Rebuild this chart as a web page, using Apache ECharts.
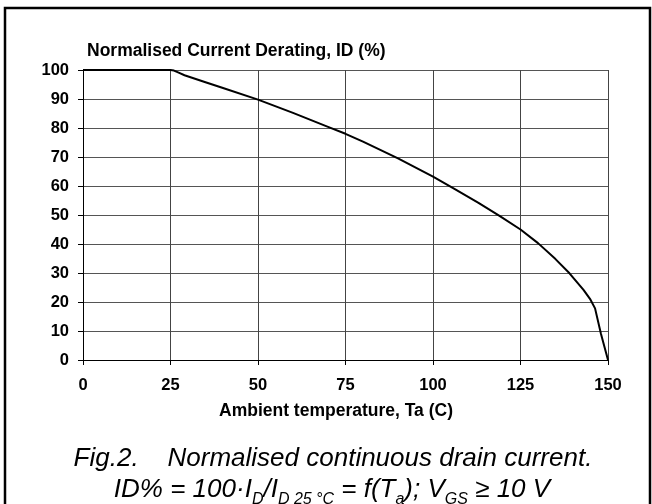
<!DOCTYPE html>
<html>
<head>
<meta charset="utf-8">
<script src="https://cdn.jsdelivr.net/npm/echarts@6/dist/echarts.min.js"></script>
<style>
html,body{margin:0;padding:0;background:#fff;}
#c{width:652px;height:504px;}
</style>
</head>
<body>
<div id="c"></div>
<script>
var temperature = [0, 25, 26, 27.5, 29, 35, 40, 50, 60, 70, 75, 80, 90, 100, 106, 113, 119, 125, 130, 135, 139, 143, 145, 146.3, 148, 150];
var currentPct  = [100, 100, 99.8, 99, 98.2, 95.8, 93.8, 89.8, 85.2, 80.4, 78, 75.3, 69.5, 63.2, 59.1, 54.2, 49.7, 45, 40.3, 34.8, 29.9, 24.2, 20.8, 17.8, 9, 0];
var xTicks = [0, 25, 50, 75, 100, 125, 150];
var yTicks = [0, 10, 20, 30, 40, 50, 60, 70, 80, 90, 100];

var FONT = 'Arial, "Liberation Sans", sans-serif';
var chart = echarts.init(document.getElementById('c'), null, {renderer: 'canvas'});
var pts = temperature.map(function (t, i) { return [t, currentPct[i]]; });

chart.setOption({
  animation: false,
  backgroundColor: '#fff',
  title: {
    text: 'Normalised Current Derating, ID (%)',
    left: 87, top: 42, padding: 0,
    textStyle: {fontFamily: FONT, fontWeight: 'bold', fontSize: 17.5, color: '#000'}
  },
  grid: {left: 83, right: 44, top: 70, bottom: 144, containLabel: false},
  xAxis: {
    type: 'value', min: 0, max: 150, interval: 25,
    name: 'Ambient temperature, Ta (C)', nameLocation: 'middle', nameGap: 42,
    nameTextStyle: {fontFamily: FONT, fontWeight: 'bold', fontSize: 17.5, color: '#000', padding: [0, 19, 0, 0]},
    axisLine: {show: true, lineStyle: {color: '#000', width: 1}},
    axisTick: {show: true, length: 5, lineStyle: {color: '#000'}},
    axisLabel: {fontFamily: FONT, fontWeight: 'bold', fontSize: 16.5, color: '#000', margin: 17,
      formatter: function (v) { return xTicks.indexOf(v) >= 0 ? String(v) : ''; }},
    splitLine: {show: true, lineStyle: {color: '#444', width: 1}}
  },
  yAxis: {
    type: 'value', min: 0, max: 100, interval: 10,
    axisLine: {show: true, lineStyle: {color: '#000', width: 1}},
    axisTick: {show: true, length: 5, lineStyle: {color: '#000'}},
    axisLabel: {fontFamily: FONT, fontWeight: 'bold', fontSize: 16.5, color: '#000', margin: 14,
      formatter: function (v) { return yTicks.indexOf(v) >= 0 ? String(v) : ''; }},
    splitLine: {show: true, lineStyle: {color: '#555', width: 1}}
  },
  series: [{
    type: 'line', data: pts, showSymbol: false, smooth: false,
    lineStyle: {color: '#000', width: 2}
  }],
  graphic: [
    {type: 'rect', shape: {x: 5, y: 8, width: 645, height: 520},
     style: {fill: 'none', stroke: '#000', lineWidth: 2.5}, silent: true},
    {type: 'text', x: 333, y: 459,
     style: {text: 'Fig.2.    Normalised continuous drain current.',
       font: 'italic 26px ' + FONT, fill: '#000', align: 'center', verticalAlign: 'middle'}},
    {type: 'text', x: 332, y: 488,
     style: {
       text: '{m|ID% = 100·I}{s|D}{m|/I}{s|D 25 °C}{m| = f(T}{s|a}{m|); V}{s|GS}{m| ≥ 10 V}',
       fill: '#000', align: 'center', verticalAlign: 'middle',
       rich: {
         m: {font: 'italic 26px ' + FONT, fill: '#000', verticalAlign: 'bottom', lineHeight: 30},
         s: {font: 'italic 16px ' + FONT, fill: '#000', verticalAlign: 'bottom', lineHeight: 22, padding: [0, 0, -5, 0]}
       }
     }}
  ]
});
</script>
</body>
</html>
